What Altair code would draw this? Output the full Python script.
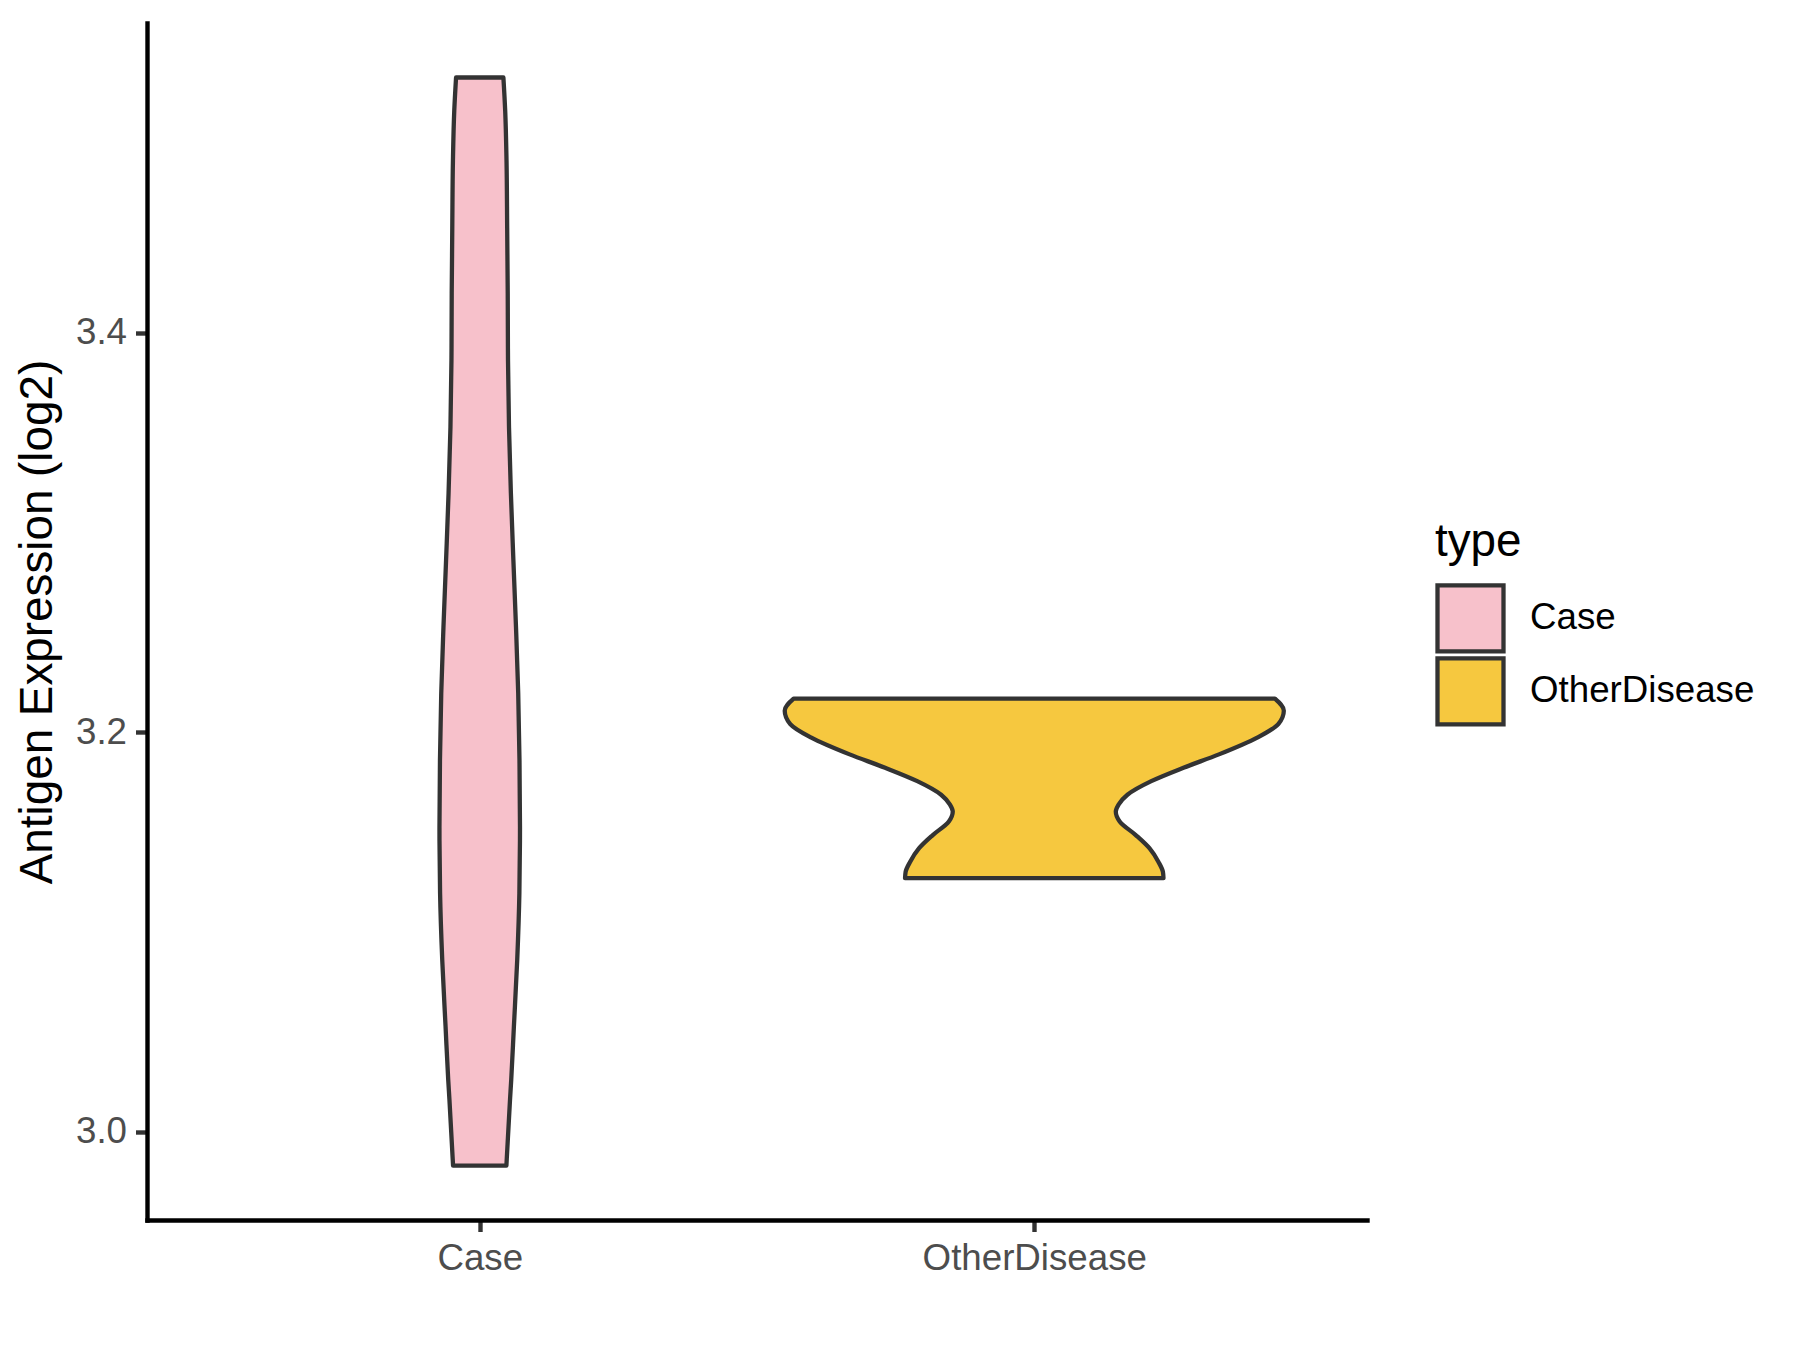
import altair as alt
import pandas as pd

# ---- data ----
categories = ["Case", "OtherDisease"]
fill_colors = ["#F7C1CB", "#F6C83F"]

# Case violin profile: expression value and half-width (fraction of category band)
case_values = [3.5279, 3.5114, 3.4864, 3.4528, 3.4198, 3.3862, 3.3527, 3.3196,
               3.2861, 3.2526, 3.2195, 3.1860, 3.1524, 3.1194, 3.0859, 3.0525,
               3.0259, 3.0159, 2.9829]
case_halfwidths = [0.0427, 0.0459, 0.0483, 0.0495, 0.0505, 0.0510, 0.0528, 0.0562,
                   0.0607, 0.0654, 0.0694, 0.0717, 0.0726, 0.0715, 0.0676, 0.0616,
                   0.0568, 0.0546, 0.0481]

# OtherDisease violin profile
other_values = [3.2168, 3.2108, 3.2041, 3.1973, 3.1889, 3.1822, 3.1755, 3.1687,
                3.1637, 3.1603, 3.1553, 3.1485, 3.1418, 3.1350, 3.1300, 3.1269]
other_halfwidths = [0.434, 0.450, 0.440, 0.402, 0.333, 0.269, 0.211, 0.168,
                    0.152, 0.147, 0.154, 0.183, 0.208, 0.224, 0.232, 0.233]

y_ticks = [3.0, 3.2, 3.4]
y_domain = [2.9557, 3.5552]

rows = []
for idx, (cat, vals, hws) in enumerate(
        [("Case", case_values, case_halfwidths),
         ("OtherDisease", other_values, other_halfwidths)], start=1):
    for v, h in zip(vals, hws):
        rows.append({"type": cat, "pos": idx, "value": v, "hw": h})
df = pd.DataFrame(rows)

label_expr = " : ".join(
    f"datum.value == {i} ? '{c}'" for i, c in enumerate(categories, start=1)
) + " : ''"

FONT = "Liberation Sans"

chart = (
    alt.Chart(df)
    .transform_calculate(xlo="datum.pos - datum.hw", xhi="datum.pos + datum.hw")
    .mark_area(orient="horizontal", interpolate="monotone", stroke="#333333",
               strokeWidth=4.3, strokeJoin="round", opacity=1)
    .encode(
        y=alt.Y("value:Q",
                scale=alt.Scale(domain=y_domain, nice=False, zero=False),
                axis=alt.Axis(values=y_ticks, format=".1f",
                              title="Antigen Expression (log2)")),
        x=alt.X("xlo:Q",
                scale=alt.Scale(domain=[0.4, 2.6], nice=False, zero=False),
                axis=alt.Axis(values=[1, 2], labelExpr=label_expr, title="",
                              labelLimit=1000)),
        x2="xhi:Q",
        fill=alt.Fill("type:N",
                      scale=alt.Scale(domain=categories, range=fill_colors),
                      legend=alt.Legend(title="type", orient="none",
                                        legendX=1288, legendY=497,
                                        symbolType="square", symbolSize=4356,
                                        symbolStrokeColor="#333333",
                                        symbolStrokeWidth=4.3,
                                        symbolOpacity=1,
                                        clipHeight=73, rowPadding=0,
                                        labelOffset=24,
                                        titlePadding=16, labelLimit=1000,
                                        titleFontSize=45.8, titleFont=FONT,
                                        titleFontWeight="normal",
                                        titleColor="#000000",
                                        labelFontSize=36.7, labelFont=FONT,
                                        labelColor="#000000")),
    )
    .properties(
        width=1220, height=1197,
        autosize=alt.AutoSizeParams(type="none"),
        padding={"left": 139, "top": 15, "right": 400, "bottom": 110},
        background="#ffffff",
    )
    .configure_view(stroke=None)
    .configure_axis(
        grid=False,
        domainColor="#000000", domainWidth=4.4, domainCap="square",
        tickColor="#333333", tickWidth=4.4, tickSize=11.5,
        labelFont=FONT, labelFontSize=36.7, labelColor="#4D4D4D",
        labelPadding=9,
        titleFont=FONT, titleFontSize=45.8, titleColor="#000000",
        titleFontWeight="normal", titlePadding=14,
    )
)

chart.save("out.html", embed_options={"renderer": "svg", "actions": False})
